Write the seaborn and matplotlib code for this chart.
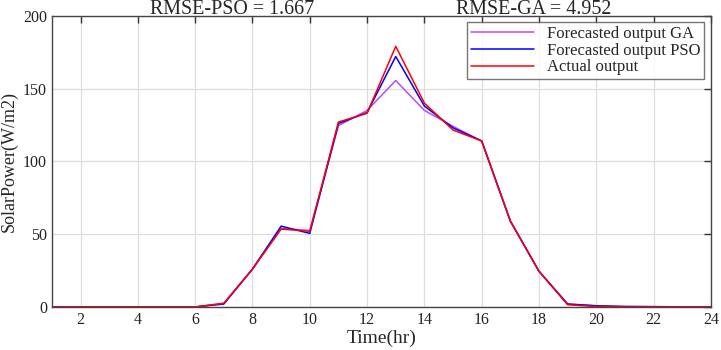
import numpy as np
import pandas as pd
from matplotlib import pyplot as plt
import seaborn as sns

# Data
hours = list(range(1, 25))
forecast_ga = [0, 0, 0, 0, 0, 0, 2.5, 26, 54, 52.5, 124.5, 135, 155.5, 135, 124, 114, 59, 24.5, 2, 0.8, 0.3, 0.2, 0.1, 0.1]
forecast_pso = [0, 0, 0, 0, 0, 0, 2, 26, 55.5, 50.5, 126, 133.5, 172, 138, 123, 114, 59, 24.5, 2, 0.8, 0.3, 0.2, 0.1, 0.1]
actual = [0, 0, 0, 0, 0, 0, 2.5, 26, 53.5, 52, 127, 133, 179, 140, 121.5, 114, 59, 24.5, 1.5, 0.3, 0, 0, 0, 0]
series_names = ["Forecasted output GA", "Forecasted output PSO", "Actual output"]
series_colors = ["#b84dff", "#0000ff", "#ff0000"]

df = pd.DataFrame({
    "hour": hours * 3,
    "power": forecast_ga + forecast_pso + actual,
    "series": [series_names[0]] * 24 + [series_names[1]] * 24 + [series_names[2]] * 24,
})

sns.set_style("white")
plt.rcParams['font.family'] = ['Liberation Serif', 'DejaVu Serif']
plt.rcParams['font.size'] = 12

fig, ax = plt.subplots(figsize=(7.21, 3.5), dpi=100)
fig.subplots_adjust(left=0.072, right=0.986, top=0.955, bottom=0.123)

sns.lineplot(data=df, x="hour", y="power", hue="series", hue_order=series_names,
             palette=series_colors, linewidth=1.1, ax=ax)

ax.set_xlim(1, 24)
ax.set_ylim(0, 200)
ax.set_xticks(range(2, 25, 2))
ax.set_yticks([0, 50, 100, 150, 200])
ax.grid(True, color="#dddddd", linewidth=0.9)
ax.tick_params(direction="in", top=True, right=True, length=5, width=1, colors="#333333",
               labelcolor="#222222", labelsize=11.5)
for s in ax.spines.values():
    s.set_color("#444444")
    s.set_linewidth(1)
ax.set_xlabel("Time(hr)", fontsize=14, labelpad=1)
ax.set_ylabel("SolarPower(W/m2)", fontsize=13, labelpad=4)

# two RMSE captions sit just above the axes
ax.annotate("RMSE-PSO = 1.667", xy=(0.273, 1.0), xycoords="axes fraction",
            xytext=(0, 2), textcoords="offset pixels", ha="center", va="baseline", fontsize=14.4)
ax.annotate("RMSE-GA = 4.952", xy=(0.731, 1.0), xycoords="axes fraction",
            xytext=(0, 2), textcoords="offset pixels", ha="center", va="baseline", fontsize=14.4)

leg = ax.legend(loc="upper right", fontsize=12, frameon=True, fancybox=False,
                borderaxespad=0.4, handlelength=3.8, labelspacing=0.05, borderpad=0.2)
leg.get_frame().set_edgecolor("#555555")
leg.get_frame().set_linewidth(1)

fig.savefig("out.png", dpi=100)
